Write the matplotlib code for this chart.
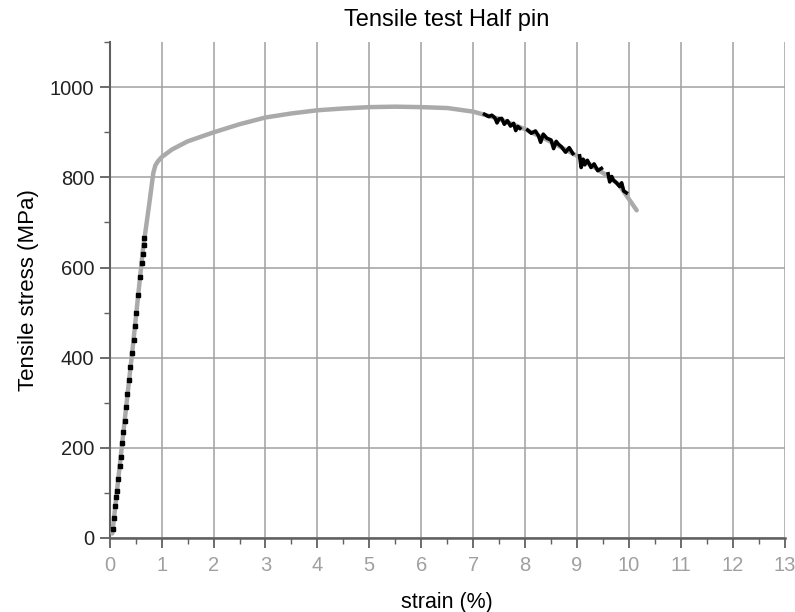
import matplotlib
matplotlib.use("Agg")
import matplotlib.pyplot as plt
from matplotlib.ticker import MultipleLocator

plt.rcParams['font.family'] = ['Liberation Sans', 'DejaVu Sans']

# main (grey) stress-strain curve
strain = [0.05, 0.24, 0.45, 0.64, 0.67, 0.76, 0.84, 0.88, 0.93, 1.0, 1.2, 1.5, 2.0, 2.5, 3.0,
          3.5, 4.0, 4.5, 5.0, 5.5, 6.0, 6.5, 7.0, 7.5, 8.0, 8.5, 9.0, 9.5, 9.8, 10.0, 10.15]
stress = [10, 210, 430, 640, 665, 740, 810, 827, 836, 845, 862, 880, 900, 918, 933,
          942, 949, 953, 956, 957, 956, 954, 946, 930, 907, 879, 848, 810, 785, 752, 727]

# black dotted points in the elastic part
el_strain = [0.06, 0.08, 0.11, 0.13, 0.14, 0.16, 0.19, 0.21, 0.24, 0.26, 0.29, 0.31, 0.34,
             0.37, 0.40, 0.43, 0.46, 0.49, 0.51, 0.55, 0.59, 0.62, 0.64, 0.66, 0.67]
el_stress = [20, 45, 70, 90, 105, 130, 160, 180, 210, 235, 260, 290, 320,
             350, 380, 410, 440, 470, 500, 540, 580, 610, 630, 650, 665]

# black noisy pieces near the end of the test
seg_strain = [
    [7.22, 7.3, 7.36, 7.42, 7.46, 7.5, 7.55, 7.6, 7.66, 7.72, 7.78, 7.82, 7.86, 7.9],
    [8.05, 8.12, 8.2, 8.26, 8.3, 8.35, 8.42, 8.5, 8.55, 8.6, 8.64, 8.7, 8.78, 8.85, 8.92],
    [9.05, 9.08, 9.12, 9.15, 9.2, 9.27, 9.33, 9.4, 9.47],
    [9.6, 9.63, 9.67, 9.7, 9.76, 9.82, 9.86, 9.9, 9.95],
]
seg_stress = [
    [940, 935, 938, 932, 921, 930, 931, 918, 926, 914, 920, 904, 913, 909],
    [905, 898, 903, 892, 878, 896, 887, 883, 864, 880, 874, 868, 856, 866, 853],
    [848, 822, 840, 828, 838, 822, 830, 815, 820],
    [808, 790, 802, 794, 788, 780, 788, 770, 766],
]

fig = plt.figure(figsize=(7.95, 6.12), dpi=100)
ax = fig.add_axes([0.138, 0.121, 0.849, 0.81])

ax.plot(strain, stress, color='#aaaaaa', lw=3.2, solid_capstyle='round', zorder=3)
ax.plot(el_strain, el_stress, ls='none', marker='s', ms=2.2, color='black', zorder=4)
for sx, sy in zip(seg_strain, seg_stress):
    ax.plot(sx, sy, color='black', lw=2.6, zorder=4)

ax.set_xlim(0, 13)
ax.set_ylim(0, 1100)
ax.xaxis.set_major_locator(MultipleLocator(1))
ax.xaxis.set_minor_locator(MultipleLocator(0.5))
ax.yaxis.set_major_locator(MultipleLocator(200))
ax.yaxis.set_minor_locator(MultipleLocator(100))
ax.grid(True, which='major', color='#a0a0a0', lw=1.1)

for s in ['top', 'right']:
    ax.spines[s].set_visible(False)
ax.spines['left'].set_color('#606060')
ax.spines['bottom'].set_color('#606060')
ax.spines['left'].set_linewidth(1.5)
ax.spines['bottom'].set_linewidth(1.8)

ax.tick_params(axis='x', which='major', length=7, width=1.3, color='#606060',
               labelsize=14.5, labelcolor='#a0a0a0', pad=6)
ax.tick_params(axis='x', which='minor', length=4, width=1, color='#606060')
ax.tick_params(axis='y', which='major', length=7, width=1.3, color='#606060',
               labelsize=14.5, labelcolor='#222222', pad=4)
ax.tick_params(axis='y', which='minor', length=4, width=1, color='#606060')

ax.set_title("Tensile test Half pin", fontsize=17, pad=12)
ax.set_xlabel("strain (%)", fontsize=15.5, labelpad=12)
ax.set_ylabel("Tensile stress (MPa)", fontsize=16, labelpad=8)

fig.savefig("out.png", dpi=100)
